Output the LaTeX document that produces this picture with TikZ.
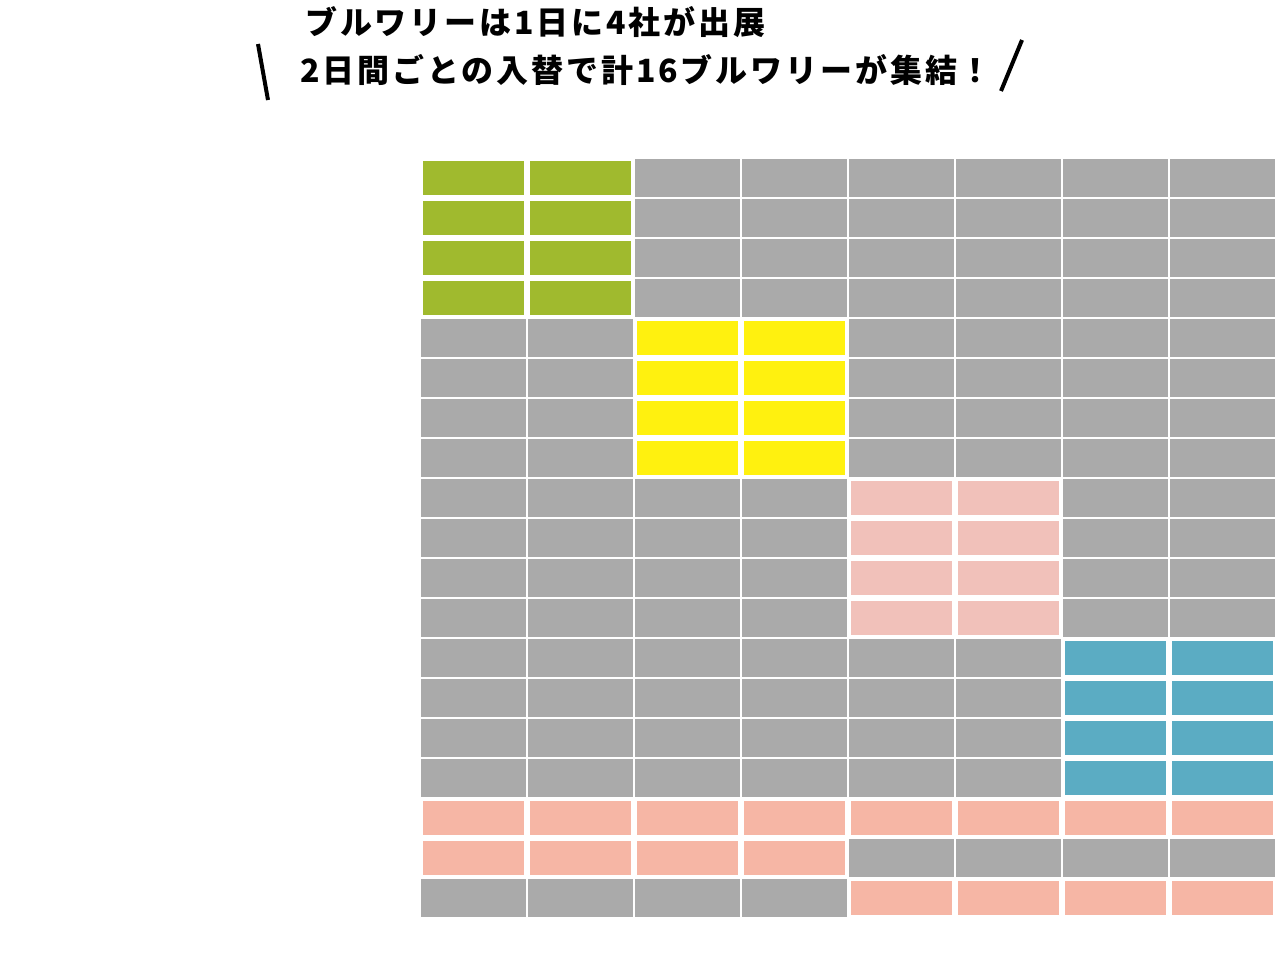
\documentclass[tikz,border=0pt]{standalone}
\usepackage{fontspec}
\usepackage{tikz}
\usetikzlibrary{positioning}
\newfontfamily\jp[LetterSpace=9]{Noto Sans CJK JP}
\definecolor{slot}{HTML}{AAAAAA}
\definecolor{hop}{HTML}{A0BA2E}
\definecolor{lemon}{HTML}{FFF10F}
\definecolor{blush}{HTML}{F1C1BA}
\definecolor{aqua}{HTML}{5BACC3}
\definecolor{peach}{HTML}{F6B6A5}

\begin{document}
\begin{tikzpicture}[x=1pt,y=-1pt,cell/.style={fill=slot,draw=none,inner sep=0pt,minimum width=105pt,minimum height=38pt},booth/.style={draw=white,line width=3pt,inner sep=0pt,minimum width=104pt,minimum height=37pt},headline/.style={anchor=west,inner sep=0pt,font=\jp\bfseries\fontsize{32pt}{36pt}\selectfont}]
\useasboundingbox[fill=white] (0,0) rectangle (1276,964);
\node[headline] (line1) at (305,22) {ブルワリーは1日に4社が出展};
\node[headline] (line2) at (300,70) {2日間ごとの入替で計16ブルワリーが集結！};
\draw[line width=4pt] (258,44)--(268,100);\draw[line width=4pt] (1022,40)--(1001,91);
\foreach \r in {1,...,19}{\foreach \c in {1,...,8}{\node[cell] (g\r-\c) at ({420+107*(\c-1)+53.5},{158+40*(\r-1)+20}) {};}}
\foreach \col/\r/\c in {hop/1/1,lemon/5/3,blush/9/5,aqua/13/7}{\foreach \dr in {0,...,3}{\foreach \dc in {0,1}{\node[booth,fill=\col] (b\r\dr-\c\dc) at (g\the\numexpr\r+\dr\relax-\the\numexpr\c+\dc\relax) {};}}}
\foreach \r/\c in {17/1,17/2,17/3,17/4,17/5,17/6,17/7,17/8,18/1,18/2,18/3,18/4,19/5,19/6,19/7,19/8}{\node[booth,fill=peach] (p\r-\c) at (g\r-\c) {};}
\end{tikzpicture}
\end{document}
